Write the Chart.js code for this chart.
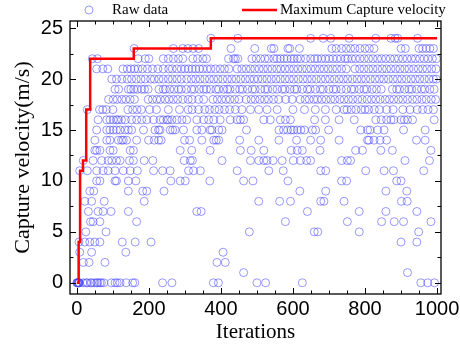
<!DOCTYPE html>
<html>
<head>
<meta charset="utf-8">
<script src="https://cdn.jsdelivr.net/npm/chart.js@4"></script>
<style>
  html, body { margin: 0; padding: 0; background: #fff; }
  canvas { display: block; }
</style>
</head>
<body>
<canvas id="chart" width="460" height="351"></canvas>
<script>
// iterations at which each capture velocity (m/s) showed up in the raw data
const at0 = [0, 1, 2, 3, 4, 5, 6, 7, 17, 26, 29, 38, 41, 49, 55, 58, 64, 68, 75, 96, 106, 112, 120, 137, 155, 161, 238, 264, 379, 393, 500, 524, 626, 955, 974, 993];
const at1 = [463, 918];
const at2 = [18, 34, 78, 389, 412];
const at3 = [8, 41, 136, 406];
const at4 = [6, 22, 36, 50, 64, 126, 162, 206, 900, 944];
const at5 = [25, 81, 479, 659, 669, 784, 949];
const at6 = [38, 45, 64, 166, 579, 751, 846, 881, 907, 983];
const at7 = [32, 59, 73, 95, 143, 333, 345, 640, 784, 858, 944];
const at8 = [22, 41, 76, 187, 505, 563, 593, 677, 686, 742, 901, 917];
const at9 = [36, 47, 143, 183, 194, 242, 619, 691, 858, 916];
const at10 = [55, 64, 106, 110, 143, 164, 261, 287, 301, 369, 463, 489, 586, 735, 749, 888, 900];
const at11 = [8, 29, 55, 73, 87, 106, 129, 148, 168, 213, 238, 259, 310, 324, 343, 445, 533, 573, 677, 691, 802, 853, 879, 963];
const at12 = [18, 45, 69, 87, 97, 110, 120, 146, 157, 187, 211, 298, 315, 321, 403, 482, 505, 519, 528, 545, 570, 601, 621, 638, 649, 735, 751, 760, 911, 979];
const at13 = [50, 55, 64, 92, 101, 148, 157, 287, 319, 370, 454, 484, 519, 595, 612, 626, 675, 774, 793, 844, 876, 983];
const at14 = [50, 83, 92, 115, 124, 129, 138, 166, 199, 215, 227, 234, 299, 313, 347, 380, 387, 394, 452, 505, 561, 610, 649, 677, 728, 807, 811, 825, 842, 860, 943, 967];
const at15 = [55, 83, 92, 101, 110, 120, 134, 143, 152, 185, 217, 227, 231, 259, 266, 273, 296, 333, 347, 370, 375, 394, 403, 471, 561, 574, 585, 595, 602, 612, 622, 632, 654, 663, 699, 788, 807, 814, 835, 853, 907, 967];
const at16 = [59, 83, 92, 101, 110, 115, 124, 135, 152, 166, 180, 194, 213, 231, 240, 250, 254, 264, 278, 292, 305, 333, 352, 366, 380, 398, 426, 445, 454, 463, 519, 537, 565, 579, 593, 660, 690, 728, 770, 830, 845, 860, 872, 880, 900, 909, 918, 932, 992];
const at17 = [29, 63, 72, 82, 100, 142, 155, 167, 179, 202, 221, 254, 285, 309, 320, 338, 355, 368, 383, 395, 410, 424, 440, 458, 482, 505, 528, 556, 600, 632, 662, 690, 720, 742, 750, 762, 775, 790, 800, 810, 826, 840, 860, 878, 905, 925, 945, 960, 975, 990];
const at18 = [88, 101, 112, 125, 136, 148, 160, 198, 210, 222, 232, 245, 256, 268, 280, 294, 309, 320, 338, 352, 378, 390, 402, 414, 425, 438, 450, 470, 484, 495, 508, 521, 532, 546, 560, 580, 598, 620, 634, 645, 658, 668, 680, 692, 705, 716, 730, 742, 754, 766, 780, 792, 806, 818, 830, 842, 856, 868, 880, 893, 905, 918, 932, 944, 958, 970, 984, 996];
const at19 = [106, 116, 143, 150, 158, 168, 180, 188, 198, 228, 240, 246, 258, 270, 282, 290, 304, 318, 326, 340, 352, 360, 371, 386, 394, 408, 418, 425, 440, 452, 460, 474, 487, 495, 510, 522, 530, 544, 556, 570, 578, 592, 604, 611, 626, 640, 648, 662, 676, 684, 700, 712, 720, 734, 748, 762, 770, 784, 797, 805, 820, 832, 845, 876, 888, 896, 910, 922, 930, 944, 957, 966, 980, 992];
const at20 = [97, 110, 125, 140, 152, 165, 178, 190, 205, 215, 228, 240, 254, 265, 278, 290, 305, 318, 330, 342, 355, 368, 380, 392, 405, 418, 430, 442, 455, 468, 480, 492, 503, 515, 528, 540, 553, 565, 578, 590, 602, 615, 628, 640, 652, 665, 678, 690, 702, 715, 728, 740, 752, 765, 778, 790, 802, 815, 828, 840, 852, 865, 878, 890, 902, 915, 928, 940, 952, 965, 978, 990, 998];
const at21 = [55, 72, 86, 128, 140, 150, 160, 170, 182, 196, 210, 225, 240, 255, 265, 278, 290, 300, 310, 320, 330, 340, 350, 362, 372, 385, 398, 410, 422, 445, 458, 470, 482, 494, 506, 518, 530, 542, 555, 566, 578, 590, 602, 614, 626, 638, 650, 662, 674, 686, 698, 710, 722, 735, 748, 772, 785, 797, 810, 822, 835, 848, 860, 872, 885, 897, 910, 922, 935, 948, 960, 972, 985, 997];
const at22 = [43, 57, 170, 190, 200, 240, 254, 268, 282, 294, 322, 335, 350, 360, 421, 435, 440, 447, 486, 498, 510, 522, 532, 547, 556, 565, 575, 584, 595, 603, 612, 621, 635, 649, 660, 668, 679, 690, 700, 711, 722, 733, 745, 752, 763, 774, 786, 798, 810, 822, 835, 846, 858, 870, 882, 893, 905, 917, 929, 940, 952, 964, 975, 987, 998];
const at23 = [159, 268, 294, 308, 323, 338, 428, 494, 540, 547, 586, 591, 618, 708, 720, 735, 748, 760, 772, 786, 800, 812, 825, 900, 912, 950, 960, 970, 980, 990];
const at24 = [372, 447, 649, 684, 705, 756, 830, 872, 884, 891, 946];
const levels = [at0, at1, at2, at3, at4, at5, at6, at7, at8, at9, at10, at11, at12,
  at13, at14, at15, at16, at17, at18, at19, at20, at21, at22, at23, at24];

// best-so-far curve, changes only at these iterations
const maxIter = [0, 5, 9, 17, 26, 37, 158, 372, 1000];
const maxVel = [0, 4, 11, 12, 17, 22, 23, 24, 24];

const xTicks = [0, 200, 400, 600, 800, 1000];
const yTicks = [0, 5, 10, 15, 20, 25];

const raw = [];
levels.forEach((its, v) => its.forEach(it => raw.push({ x: it, y: v })));
const maxLine = maxIter.map((x, i) => ({ x: x, y: maxVel[i] }));

const blue = 'rgba(70, 70, 255, 0.55)';

// box round the plot, with ticks pointing in on all four sides
const frame = {
  id: 'frame',
  afterDatasetsDraw(chart) {
    const { ctx, chartArea: a, scales: { x, y } } = chart;
    ctx.save();
    ctx.strokeStyle = '#000';
    ctx.lineWidth = 1;
    ctx.beginPath();
    for (let v = 0; v <= 1000; v += 50) {
      const px = Math.round(x.getPixelForValue(v)) + 0.5;
      const len = v % 200 === 0 ? 6 : 3.5;
      ctx.moveTo(px, a.bottom); ctx.lineTo(px, a.bottom - len);
      ctx.moveTo(px, a.top); ctx.lineTo(px, a.top + len);
    }
    for (let v = 0; v <= 25; v += 2.5) {
      const py = Math.round(y.getPixelForValue(v)) + 0.5;
      const len = v % 5 === 0 ? 6 : 3.5;
      ctx.moveTo(a.left, py); ctx.lineTo(a.left + len, py);
      ctx.moveTo(a.right, py); ctx.lineTo(a.right - len, py);
    }
    ctx.stroke();
    ctx.lineWidth = 1.3;
    ctx.strokeRect(a.left, a.top, a.right - a.left, a.bottom - a.top);
    ctx.restore();
  }
};

// legend spread across the top like the original
const topLegend = {
  id: 'topLegend',
  afterDraw(chart) {
    const ctx = chart.ctx;
    const ds = chart.data.datasets;
    ctx.save();
    ctx.font = '15px "Liberation Serif"';
    ctx.fillStyle = '#000';
    ctx.textBaseline = 'middle';
    ctx.strokeStyle = blue;
    ctx.lineWidth = 1;
    ctx.beginPath();
    ctx.arc(89, 10, 4, 0, Math.PI * 2);
    ctx.stroke();
    ctx.fillText(ds[1].label, 112, 10);
    ctx.strokeStyle = '#ff0000';
    ctx.lineWidth = 2.5;
    ctx.beginPath();
    ctx.moveTo(242, 10);
    ctx.lineTo(277, 10);
    ctx.stroke();
    ctx.fillText(ds[0].label, 280, 10);
    ctx.restore();
  }
};

new Chart(document.getElementById('chart'), {
  type: 'scatter',
  data: {
    datasets: [
      {
        type: 'line',
        label: 'Maximum Capture velocity',
        data: maxLine,
        stepped: 'before',
        borderColor: '#ff0000',
        borderWidth: 2.5,
        pointRadius: 0,
        fill: false,
        order: 0
      },
      {
        label: 'Raw data',
        data: raw,
        pointStyle: 'circle',
        pointRadius: 4,
        borderColor: blue,
        borderWidth: 1,
        backgroundColor: 'rgba(0,0,0,0)',
        order: 1
      }
    ]
  },
  options: {
    responsive: false,
    animation: false,
    layout: { padding: { top: 21, right: 19, left: 0, bottom: 0 } },
    plugins: { legend: { display: false }, tooltip: { enabled: false } },
    scales: {
      x: {
        type: 'linear',
        min: -19,
        max: 1011,
        afterBuildTicks: s => { s.ticks = xTicks.map(v => ({ value: v })); },
        afterFit: s => { s.height = 57; s.paddingRight = 0; s.paddingLeft = 0; },
        grid: { display: false, drawTicks: false },
        border: { display: false },
        ticks: {
          color: '#000',
          padding: 3,
          font: { family: 'Liberation Sans', size: 20 },
          callback: v => String(v)
        },
        title: {
          display: true,
          text: 'Iterations',
          color: '#000',
          padding: { top: 0, bottom: 6 },
          font: { family: 'Liberation Serif', size: 21 }
        }
      },
      y: {
        min: -1.1,
        max: 25.7,
        afterBuildTicks: s => { s.ticks = yTicks.map(v => ({ value: v })); },
        afterFit: s => { s.width = 70; },
        grid: { display: false, drawTicks: false },
        border: { display: false },
        ticks: {
          color: '#000',
          padding: 7,
          font: { family: 'Liberation Sans', size: 20 },
          callback: v => String(v)
        },
        title: {
          display: true,
          text: 'Capture velocity(m/s)',
          color: '#000',
          padding: { top: 10, bottom: 0 },
          font: { family: 'Liberation Serif', size: 22 }
        }
      }
    }
  },
  plugins: [frame, topLegend]
});
</script>
</body>
</html>
